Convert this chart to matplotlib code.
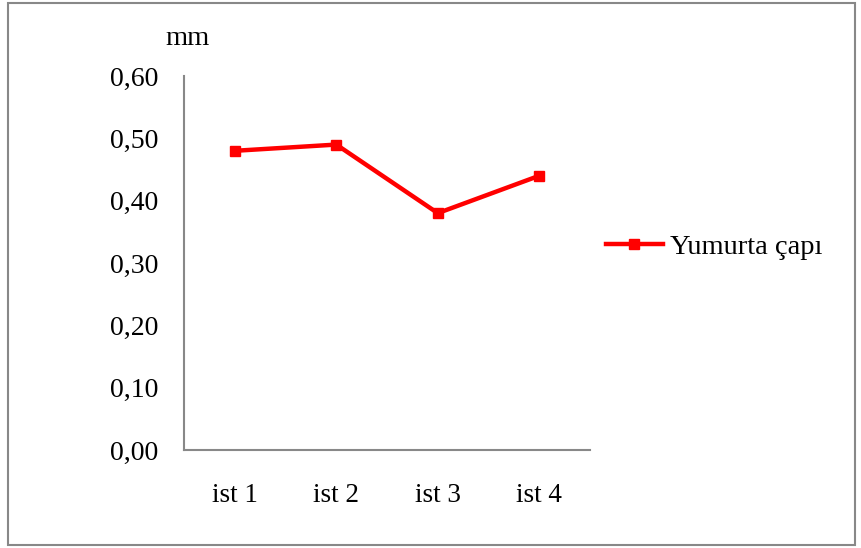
import matplotlib.pyplot as plt
from matplotlib.patches import Rectangle
from matplotlib.ticker import FuncFormatter

categories = ["ist 1", "ist 2", "ist 3", "ist 4"]
values = [0.48, 0.49, 0.38, 0.44]
series_name = "Yumurta çapı"
unit = "mm"

plt.rcParams['font.family'] = ['Liberation Serif', 'DejaVu Serif']

fig = plt.figure(figsize=(8.62, 5.48), dpi=100)
ax = fig.add_axes([0.2135, 0.1788, 0.4710, 0.6825])

x = range(len(categories))
ax.plot(x, values, color='#ff0000', lw=3.2, marker='s', markersize=7.5,
        label=series_name)

ax.set_xlim(-0.5, len(categories) - 0.5)
ax.set_ylim(0, 0.6)
ax.set_yticks([0, 0.1, 0.2, 0.3, 0.4, 0.5, 0.6])
ax.yaxis.set_major_formatter(FuncFormatter(lambda v, p: ("%.2f" % v).replace(".", ",")))
ax.set_xticks(list(x))
ax.set_xticklabels(categories)
ax.tick_params(axis='both', length=0, colors='black')
ax.tick_params(axis='y', pad=18.5, labelsize=20)
ax.tick_params(axis='x', pad=24, labelsize=19.5)

for s in ['top', 'right']:
    ax.spines[s].set_visible(False)
for s in ['left', 'bottom']:
    ax.spines[s].set_color('#888888')
    ax.spines[s].set_linewidth(1.5)

fig.text(0.1914, 0.93, unit, fontsize=20.5, ha='left', va='center')

ax.legend(loc='center left', bbox_to_anchor=(0.976, 0.544), frameon=False,
          fontsize=20.5, handlelength=2.0, handletextpad=0.25)

fig.patches.append(Rectangle((0.009, 0.005), 0.983, 0.99, transform=fig.transFigure,
                             fill=False, edgecolor='#888888', lw=1.5))

fig.savefig("out.png", dpi=100)
